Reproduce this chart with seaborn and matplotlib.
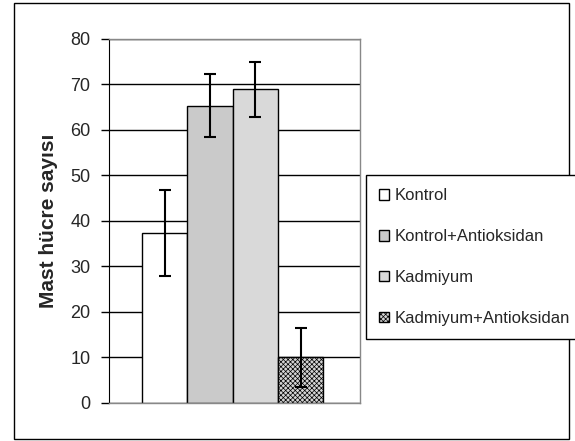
import matplotlib
matplotlib.use("Agg")
import matplotlib.pyplot as plt
import seaborn as sns
import pandas as pd
from matplotlib.patches import Rectangle

groups = ["Kontrol", "Kontrol+Antioksidan", "Kadmiyum", "Kadmiyum+Antioksidan"]
means = [37.4, 65.3, 68.9, 10.0]
errors = [9.5, 6.9, 6.0, 6.5]
yticks = [0, 10, 20, 30, 40, 50, 60, 70, 80]

sns.set_style("white")
plt.rcParams["font.family"] = ["Liberation Sans", "DejaVu Sans"]
plt.rcParams["hatch.color"] = "#6a6a6a"
plt.rcParams["hatch.linewidth"] = 0.5

df = pd.DataFrame({"grup": groups, "sayi": means})
colors = ["#ffffff", "#cacaca", "#d9d9d9", "#d4d4d4"]

fig = plt.figure(figsize=(5.75, 4.41), dpi=100)
ax = fig.add_axes([0.1887, 0.0862, 0.4374, 0.8254])

sns.barplot(data=df, x="grup", y="sayi", hue="grup", palette=colors,
            dodge=False, width=1.0, edgecolor="black", linewidth=1.0,
            legend=False, ax=ax, zorder=2)
ax.patches[3].set_hatch("xxxxxxx")

ax.errorbar(range(len(groups)), means, yerr=errors, fmt="none", ecolor="black",
            elinewidth=1.5, capsize=4, capthick=1.5, zorder=3)

ax.set_ylim(0, 80)
ax.set_xlim(-1.24, 4.31)
ax.set_yticks(yticks)
ax.set_xticks([])
ax.set_xlabel("")
ax.yaxis.grid(True, color="black", linewidth=1.0)
ax.set_axisbelow(True)
ax.tick_params(axis="y", left=True, length=6, width=1, color="black",
               labelsize=13, pad=7)
for side in ["top", "right", "bottom"]:
    ax.spines[side].set_color("#888888")
    ax.spines[side].set_linewidth(1.0)
ax.spines["left"].set_color("black")
ax.set_ylabel("Mast hücre sayısı", fontsize=15, fontweight="bold", labelpad=9)

fig.legend(ax.patches[:4], groups, loc="upper left",
           bbox_to_anchor=(0.6365, 0.603), borderaxespad=0, frameon=True,
           fancybox=False, edgecolor="black", framealpha=1, fontsize=12,
           handlelength=0.6, handleheight=0.6, handletextpad=0.3,
           labelspacing=1.55, borderpad=0.8)

fig.add_artist(Rectangle((0.024, 0.004), 0.966, 0.99, transform=fig.transFigure,
                         fill=False, edgecolor="black", linewidth=1.0))

fig.savefig("out.png", dpi=100)
